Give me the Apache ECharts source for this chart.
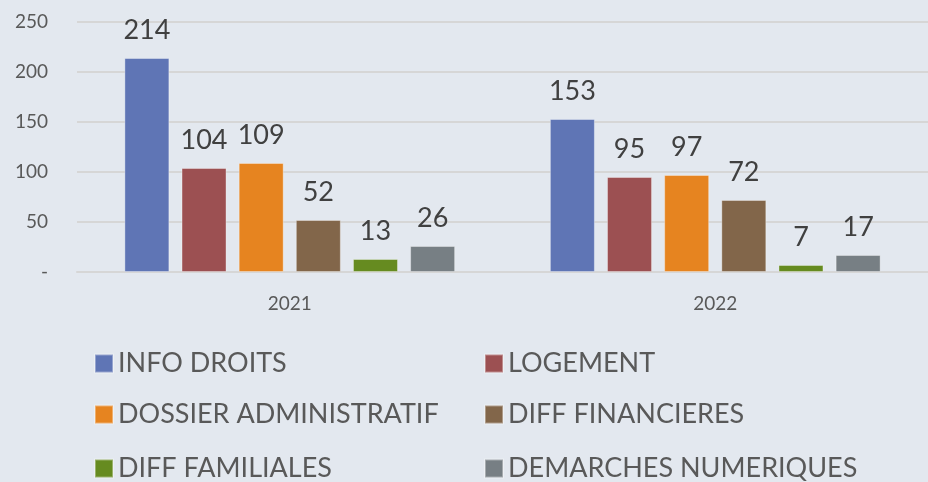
<!DOCTYPE html>
<html>
<head>
<meta charset="utf-8">
<script src="https://cdn.jsdelivr.net/npm/echarts@6/dist/echarts.min.js"></script>
<style>
  html, body { margin: 0; padding: 0; background: #e3e8ef; }
  #main { width: 928px; height: 482px; }
</style>
</head>
<body>
<div id="main"></div>
<script>
// categories and values
const years = ['2021', '2022'];
const infoDroits = [214, 153];
const logement = [104, 95];
const dossierAdmin = [109, 97];
const diffFinancieres = [52, 72];
const diffFamiliales = [13, 7];
const demarchesNum = [26, 17];

const seriesDefs = [
  { name: 'INFO DROITS', data: infoDroits, color: '#5f75b5' },
  { name: 'LOGEMENT', data: logement, color: '#9c5052' },
  { name: 'DOSSIER ADMINISTRATIF', data: dossierAdmin, color: '#e68420' },
  { name: 'DIFF FINANCIERES', data: diffFinancieres, color: '#82664a' },
  { name: 'DIFF FAMILIALES', data: diffFamiliales, color: '#668b20' },
  { name: 'DEMARCHES NUMERIQUES', data: demarchesNum, color: '#777f84' }
];

const font = 'Lato, "Open Sans", sans-serif';
const chart = echarts.init(document.getElementById('main'));

// legend laid out as a 2-column grid, one legend box per entry
const legendRows = [350, 401, 455];
const legendCols = [94, 484];
const legends = seriesDefs.map((s, i) => ({
  left: legendCols[i % 2],
  top: legendRows[Math.floor(i / 2)],
  padding: 0,
  itemWidth: 18,
  itemHeight: 18,
  itemGap: 0,
  icon: 'rect',
  data: [s.name],
  textStyle: { fontFamily: font, fontSize: 27, color: '#595959', lineHeight: 26 }
}));

chart.setOption({
  backgroundColor: '#e3e8ef',
  animation: false,
  grid: { left: 77, right: 0, top: 22, bottom: 210, containLabel: false },
  legend: legends,
  xAxis: {
    type: 'category',
    data: years,
    axisLine: { show: true, lineStyle: { color: '#d6d6d6', width: 2 } },
    axisTick: { show: false },
    axisLabel: { fontFamily: font, fontSize: 19, color: '#595959', margin: 22 }
  },
  yAxis: {
    type: 'value',
    min: 0,
    max: 250,
    interval: 50,
    axisLine: { show: false },
    axisTick: { show: false },
    splitLine: { lineStyle: { color: '#d6d6d6', width: 2 } },
    axisLabel: {
      fontFamily: font, fontSize: 19, color: '#595959', margin: 29,
      formatter: v => (v === 0 ? '-' : String(v))
    }
  },
  series: seriesDefs.map(s => ({
    type: 'bar',
    name: s.name,
    data: s.data,
    barWidth: 45,
    barGap: '27%',
    itemStyle: { color: s.color, borderColor: 'rgba(255,255,255,0.35)', borderWidth: 1 },
    label: {
      show: true,
      position: 'top',
      distance: 14,
      fontFamily: font,
      fontSize: 27,
      color: '#404040'
    }
  }))
});
</script>
</body>
</html>
